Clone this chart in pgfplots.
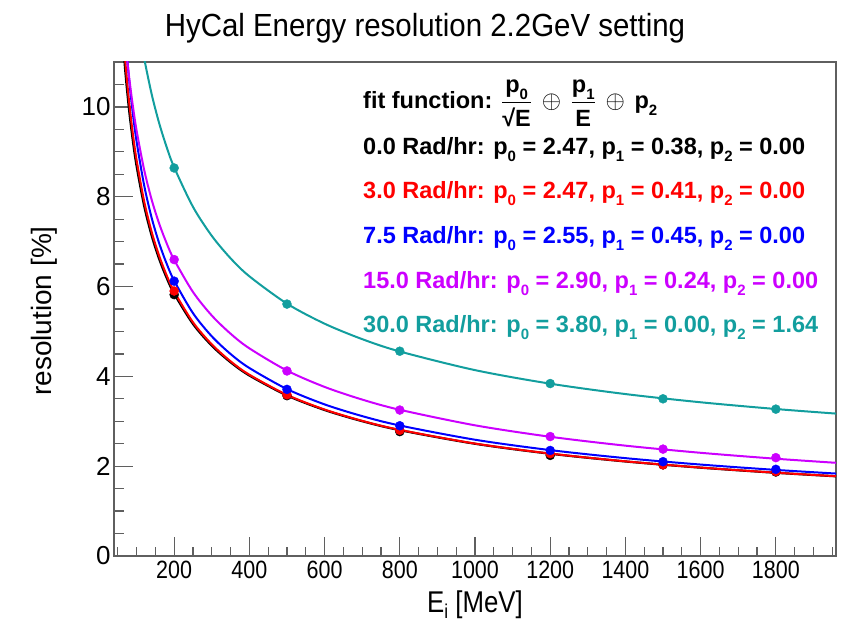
\documentclass[border=0pt]{standalone}
\usepackage{fontspec}
\setmainfont{Liberation Sans}
\newfontfamily\narrowfont[FakeStretch=0.86]{Liberation Sans}
\newfontfamily\titlefont[FakeStretch=0.92]{Liberation Sans}
\usepackage{amsmath}
\usepackage{pgfplots}
\usepackage{pgfplotstable}
\pgfplotsset{compat=1.18}
\definecolor{rootmag}{RGB}{204,0,255}
\definecolor{rootteal}{RGB}{18,158,158}
\definecolor{framegray}{RGB}{95,95,95}
\newcommand{\psub}[1]{p\raisebox{-7pt}{\fontsize{15}{15}\selectfont #1}}

\pgfplotstableread{
E     black  red    blue   magenta
50    13.41  13.76  14.53  13.83
60    11.91  12.18  12.83  12.50
70    10.80  11.02  11.59  11.48
80    9.941  10.13  10.63  10.68
90    9.253  9.410  9.862  10.03
100   8.686  8.822  9.235  9.479
120   7.802  7.906  8.261  8.607
140   7.138  7.222  7.535  7.938
160   6.616  6.686  6.968  7.404
180   6.193  6.251  6.510  6.964
200   5.841  5.891  6.130  6.595
250   5.168  5.205  5.408  5.879
300   4.684  4.713  4.892  5.355
350   4.314  4.336  4.498  4.950
400   4.019  4.037  4.186  4.624
500   3.575  3.588  3.717  4.129
600   3.251  3.262  3.376  3.765
700   3.002  3.010  3.115  3.483
800   2.802  2.809  2.906  3.256
1000  2.499  2.504  2.589  2.910
1200  2.277  2.281  2.358  2.655
1400  2.105  2.108  2.179  2.457
1600  1.967  1.969  2.036  2.298
1800  1.853  1.855  1.917  2.166
1960  1.775  1.777  1.836  2.075
}\curves

\pgfplotstableread{
E     teal
100   12.13
110   11.57
120   11.09
140   10.29
160   9.641
180   9.106
200   8.654
250   7.775
300   7.129
350   6.629
400   6.228
500   5.619
600   5.173
700   4.829
800   4.554
1000  4.139
1200  3.837
1400  3.606
1600  3.423
1800  3.273
1960  3.171
}\tealcurve

\pgfplotstableread{
E     black  red    blue   magenta teal
200   5.82   5.90   6.12   6.60    8.64
500   3.57   3.59   3.71   4.12    5.61
800   2.77   2.80   2.90   3.25    4.56
1200  2.24   2.28   2.35   2.66    3.84
1500  2.03   2.03   2.10   2.38    3.50
1800  1.87   1.88   1.93   2.19    3.27
}\points

\begin{document}
\begin{tikzpicture}
\useasboundingbox (-114pt,-65pt) rectangle (737pt,556pt);
\begin{axis}[
  at={(0pt,0pt)}, anchor=south west,
  scale only axis, width=722pt, height=494pt,
  xmin=40, xmax=1960, ymin=0, ymax=11,
  xtick={200,400,...,1800}, ytick={0,2,...,10},
  minor xtick={50,100,...,1950},
  minor ytick={0.5,1.0,...,10.5},
  tick align=inside, xtick pos=bottom, ytick pos=left,
  major tick length=19pt, minor tick length=9.5pt,
  axis line style={framegray, line width=1.6pt},
  every tick/.style={framegray, line width=1.2pt},
  /pgf/number format/assume math mode=true,
  /pgf/number format/1000 sep={},
  xticklabel style={font=\narrowfont\fontsize{25}{25}\selectfont, yshift=-2pt},
  yticklabel style={font=\fontsize{26}{26}\selectfont},
  scaled ticks=false,
]
\addplot[black, line width=2.2pt, smooth] table[x=E, y=black] {\curves};
\addplot[black, only marks, mark=*, mark size=4.5pt] table[x=E, y=black] {\points};
\addplot[red, line width=2pt, smooth] table[x=E, y=red] {\curves};
\addplot[red, only marks, mark=*, mark size=4.5pt] table[x=E, y=red] {\points};
\addplot[blue, line width=2pt, smooth] table[x=E, y=blue] {\curves};
\addplot[blue, only marks, mark=*, mark size=4.5pt] table[x=E, y=blue] {\points};
\addplot[rootmag, line width=2pt, smooth] table[x=E, y=magenta] {\curves};
\addplot[rootmag, only marks, mark=*, mark size=4.5pt] table[x=E, y=magenta] {\points};
\addplot[rootteal, line width=2pt, smooth] table[x=E, y=teal] {\tealcurve};
\addplot[rootteal, only marks, mark=*, mark size=4.5pt] table[x=E, y=teal] {\points};
\end{axis}

% title and axis labels
\node[anchor=base, inner sep=0pt, font=\titlefont\fontsize{32}{32}\selectfont] at (311pt,519pt) {HyCal Energy resolution 2.2GeV setting};
\node[anchor=base, inner sep=0pt, font=\narrowfont\fontsize{30}{30}\selectfont] at (361pt,-56pt) {E\raisebox{-6pt}{\fontsize{20}{20}\selectfont i} [MeV]};
\node[anchor=base, rotate=90, inner sep=0pt, font=\fontsize{28}{28}\selectfont] at (-62pt,245pt) {resolution [\%]};

% fit text
\node[anchor=base west, inner sep=0pt, font=\bfseries\fontsize{23.5}{23.5}\selectfont] at (249pt,447pt)
  {fit function: $\displaystyle\frac{\text{\bfseries\psub{0}}}{\text{\bfseries √E}}\,\oplus\,\frac{\text{\bfseries\psub{1}}}{\text{\bfseries E}}\,\oplus\,\text{\bfseries\psub{2}}$};
\node[anchor=base west, inner sep=0pt, font=\bfseries\fontsize{23.5}{23.5}\selectfont, text=black] at (249pt,401pt)
  {0.0 Rad/hr: \psub{0} = 2.47, \psub{1} = 0.38, \psub{2} = 0.00};
\node[anchor=base west, inner sep=0pt, font=\bfseries\fontsize{23.5}{23.5}\selectfont, text=red] at (249pt,357pt)
  {3.0 Rad/hr: \psub{0} = 2.47, \psub{1} = 0.41, \psub{2} = 0.00};
\node[anchor=base west, inner sep=0pt, font=\bfseries\fontsize{23.5}{23.5}\selectfont, text=blue] at (249pt,312pt)
  {7.5 Rad/hr: \psub{0} = 2.55, \psub{1} = 0.45, \psub{2} = 0.00};
\node[anchor=base west, inner sep=0pt, font=\bfseries\fontsize{23.5}{23.5}\selectfont, text=rootmag] at (249pt,267pt)
  {15.0 Rad/hr: \psub{0} = 2.90, \psub{1} = 0.24, \psub{2} = 0.00};
\node[anchor=base west, inner sep=0pt, font=\bfseries\fontsize{23.5}{23.5}\selectfont, text=rootteal] at (249pt,223pt)
  {30.0 Rad/hr: \psub{0} = 3.80, \psub{1} = 0.00, \psub{2} = 1.64};
\end{tikzpicture}
\end{document}
